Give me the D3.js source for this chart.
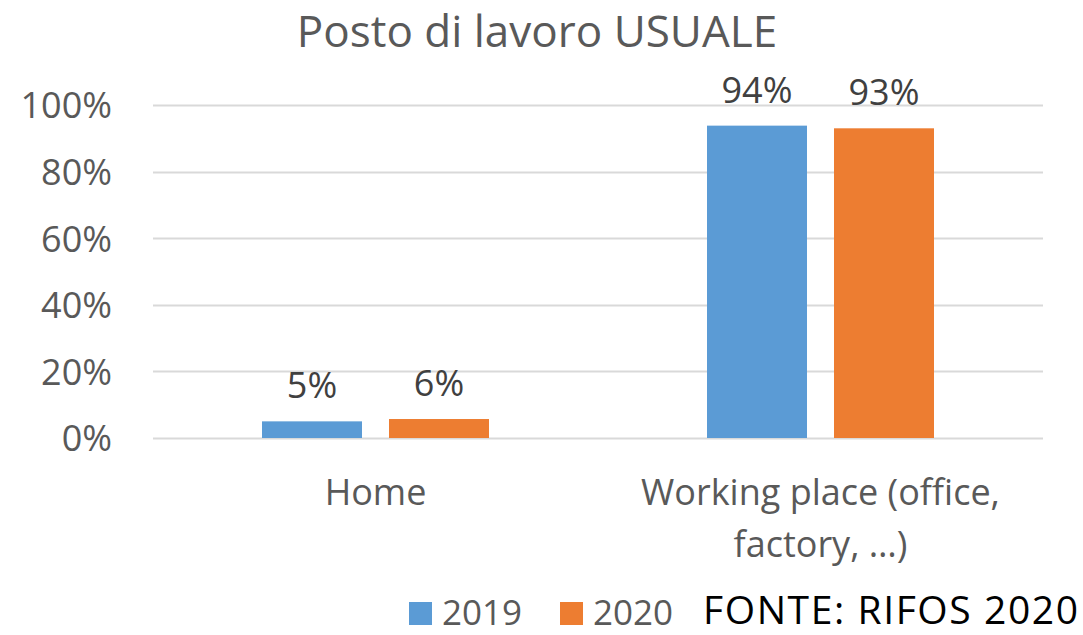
<!DOCTYPE html>
<html>
<head>
<meta charset="utf-8">
<script src="https://cdn.jsdelivr.net/npm/d3@7"></script>
<style>
  html, body { margin: 0; padding: 0; background: #fff; }
  svg { display: block; font-family: "Open Sans", sans-serif; }
</style>
</head>
<body>
<svg id="chart" width="1083" height="635"></svg>
<script>
const title = "Posto di lavoro USUALE";
const categories = ["Home", "Working place (office, factory, …)"];
const categoryLines = [["Home"], ["Working place (office,", "factory, …)"]];
const seriesNames = ["2019", "2020"];
const values2019 = [0.050, 0.938];
const values2020 = [0.057, 0.930];
const yTicks = [0, 0.2, 0.4, 0.6, 0.8, 1.0];
const source = "FONTE: RIFOS 2020";
const colors = ["#5B9BD5", "#ED7D31"];

const seriesValues = [values2019, values2020];
const svg = d3.select("#chart");
const textColor = "#595959";

const x0 = d3.scaleBand().domain(categories).range([153, 1043]).paddingInner(0).paddingOuter(0);
const x1 = d3.scaleBand().domain(seriesNames).range([0, x0.bandwidth()])
  .paddingInner(27 / 127).paddingOuter(109 / 127);
const y = d3.scaleLinear().domain([0, 1]).range([438, 105]);

// title
svg.append("text").attr("x", 537).attr("y", 47).attr("text-anchor", "middle")
  .attr("fill", textColor).style("font-size", "44px").text(title);

// gridlines
svg.append("g").selectAll("line").data(yTicks).join("line")
  .attr("x1", 153).attr("x2", 1043)
  .attr("y1", d => Math.round(y(d)) + 0.5).attr("y2", d => Math.round(y(d)) + 0.5)
  .attr("stroke", "#D9D9D9").attr("stroke-width", 2);

// y axis
const yAxis = svg.append("g").attr("transform", "translate(112,0)")
  .call(d3.axisLeft(y).tickValues(yTicks).tickSize(0).tickPadding(0).tickFormat(d3.format(".0%")));
yAxis.select(".domain").remove();
yAxis.selectAll("text").attr("fill", textColor).style("font-size", "36px")
  .style("font-family", "'Open Sans', sans-serif").attr("dy", "0.36em");

// bars
const groups = svg.append("g").selectAll("g").data(categories).join("g")
  .attr("transform", d => `translate(${x0(d)},0)`);
groups.selectAll("rect").data((d, i) => seriesNames.map((s, j) => ({ s, v: seriesValues[j][i], j })))
  .join("rect")
  .attr("x", d => x1(d.s)).attr("width", x1.bandwidth())
  .attr("y", d => y(d.v)).attr("height", d => y(0) - y(d.v))
  .attr("fill", d => colors[d.j]);
groups.selectAll("text.val").data((d, i) => seriesNames.map((s, j) => ({ s, v: seriesValues[j][i] })))
  .join("text").attr("class", "val")
  .attr("x", d => x1(d.s) + x1.bandwidth() / 2).attr("y", d => y(d.v) - 23)
  .attr("text-anchor", "middle").attr("fill", "#404040").style("font-size", "36px")
  .text(d => d3.format(".0%")(d.v));

// x axis labels
const xAxis = svg.append("g").attr("transform", `translate(0,${y(0)})`)
  .call(d3.axisBottom(x0).tickSize(0).tickFormat(""));
xAxis.select(".domain").remove();
xAxis.selectAll(".tick").each(function(d, i) {
  const t = d3.select(this).append("text").attr("text-anchor", "middle")
    .attr("fill", textColor).style("font-size", "36px")
    .style("font-family", "'Open Sans', sans-serif");
  categoryLines[i].forEach((line, k) => {
    t.append("tspan").attr("x", 0).attr("y", 67 + k * 52).text(line);
  });
});

// legend
const legendX = [409, 560];
seriesNames.forEach((s, j) => {
  svg.append("rect").attr("x", legendX[j]).attr("y", 602).attr("width", 23).attr("height", 23).attr("fill", colors[j]);
  svg.append("text").attr("x", legendX[j] + 33).attr("y", 625).attr("fill", textColor)
    .style("font-size", "35px").text(s);
});
svg.append("text").attr("x", 703).attr("y", 624).attr("fill", "#000")
  .style("font-size", "39px").attr("textLength", 375).attr("lengthAdjust", "spacing").text(source);
</script>
</body>
</html>
